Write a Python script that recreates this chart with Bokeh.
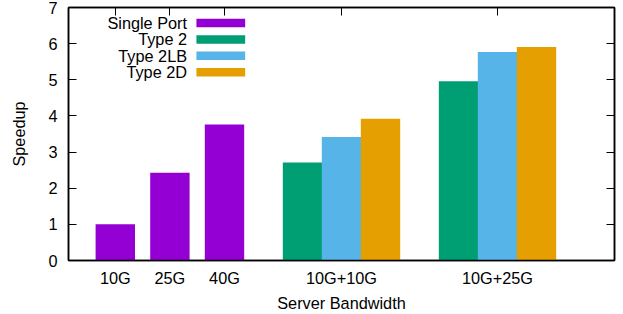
from bokeh.plotting import figure
from bokeh.models import Range1d, FixedTicker, LinearAxis, Label, BoxAnnotation
from bokeh.embed import file_html
from bokeh.resources import INLINE

# ---- data ----
single_labels = ["10G", "25G", "40G"]
single_port = [1.0, 2.43, 3.76]
group_labels = ["10G+10G", "10G+25G"]
type2 = [2.71, 4.96]
type2lb = [3.42, 5.77]
type2d = [3.92, 5.91]
series_names = ["Single Port", "Type 2", "Type 2LB", "Type 2D"]
colors = ["#9400D3", "#009E73", "#56B4E9", "#E69F00"]
y_ticks = [0, 1, 2, 3, 4, 5, 6, 7]

FONT = "Liberation Sans"
FS = "16.3px"

# ---- layout positions ----
single_x = [round(1.2 + 1.4 * i, 2) for i in range(len(single_labels))]
group_x = [round(7 + 4 * j, 2) for j in range(len(group_labels))]
bar_w = 1.01

p = figure(width=623, height=314, output_backend="svg", toolbar_location=None,
           x_range=Range1d(0, 14), y_range=Range1d(0, 7),
           min_border_left=68, min_border_right=9, min_border_top=7, min_border_bottom=53)
p.background_fill_color = "white"
p.border_fill_color = "white"
p.xgrid.visible = False
p.ygrid.visible = False
p.outline_line_color = "black"
p.outline_line_width = 1.5

# bars
p.vbar(x=single_x, top=single_port, width=bar_w, bottom=0, fill_color=colors[0], line_color=None)
for k, vals in enumerate([type2, type2lb, type2d]):
    xs = [gx + (k - 1) for gx in group_x]
    p.vbar(x=xs, top=vals, width=bar_w, bottom=0, fill_color=colors[k + 1], line_color=None)

all_ticks = single_x + group_x
overrides = {t: lab for t, lab in zip(all_ticks, single_labels + group_labels)}

# bottom axis
xa = p.xaxis[0]
xa.ticker = FixedTicker(ticks=all_ticks)
xa.major_label_overrides = overrides
xa.major_tick_line_color = None
xa.major_tick_in = 0
xa.major_tick_out = 0
xa.minor_tick_line_color = None
xa.axis_line_color = "black"
xa.axis_line_width = 1.5
xa.major_label_text_font = FONT
xa.major_label_text_font_size = FS
xa.major_label_text_color = "black"
xa.major_label_standoff = 8
xa.axis_label = "Server Bandwidth"
xa.axis_label_text_font = FONT
xa.axis_label_text_font_size = FS
xa.axis_label_text_font_style = "normal"
xa.axis_label_text_color = "black"
xa.axis_label_standoff = 4

# left axis
ya = p.yaxis[0]
ya.ticker = FixedTicker(ticks=y_ticks)
ya.major_tick_in = 8
ya.major_tick_out = 0
ya.major_tick_line_color = "black"
ya.minor_tick_line_color = None
ya.axis_line_color = "black"
ya.axis_line_width = 1.5
ya.major_label_text_font = FONT
ya.major_label_text_font_size = FS
ya.major_label_text_color = "black"
ya.major_label_standoff = 11
ya.axis_label = "Speedup"
ya.axis_label_text_font = FONT
ya.axis_label_text_font_size = FS
ya.axis_label_text_font_style = "normal"
ya.axis_label_text_color = "black"
ya.axis_label_standoff = 17

# top and right axes (mirror ticks, no labels)
top = LinearAxis(ticker=FixedTicker(ticks=all_ticks), major_tick_in=8, major_tick_out=0,
                 minor_tick_line_color=None, major_label_text_font_size="1px",
                 major_label_text_color=None, major_label_standoff=0,
                 axis_line_color="black", axis_line_width=1.5)
p.add_layout(top, "above")
right = LinearAxis(ticker=FixedTicker(ticks=y_ticks), major_tick_in=8, major_tick_out=0,
                   minor_tick_line_color=None, major_label_text_font_size="1px",
                   major_label_text_color=None, major_label_standoff=0,
                   axis_line_color="black", axis_line_width=1.5)
p.add_layout(right, "right")

# gnuplot-style key: text right-aligned, colour swatch to its right
leg_text_x = 3.04
sw_left, sw_right = 3.28, 4.53
row0, row_step, sw_h = 6.57, 0.453, 0.235
for i, (name, c) in enumerate(zip(series_names, colors)):
    yy = row0 - i * row_step
    p.add_layout(Label(x=leg_text_x, y=yy, text=name, text_align="right", text_baseline="middle",
                       text_font=FONT, text_font_size=FS, text_color="black"))
    p.add_layout(BoxAnnotation(left=sw_left, right=sw_right, bottom=yy - sw_h / 2, top=yy + sw_h / 2,
                               fill_color=c, fill_alpha=1.0, line_color=None))

open("out.html", "w").write(file_html(p, INLINE))
